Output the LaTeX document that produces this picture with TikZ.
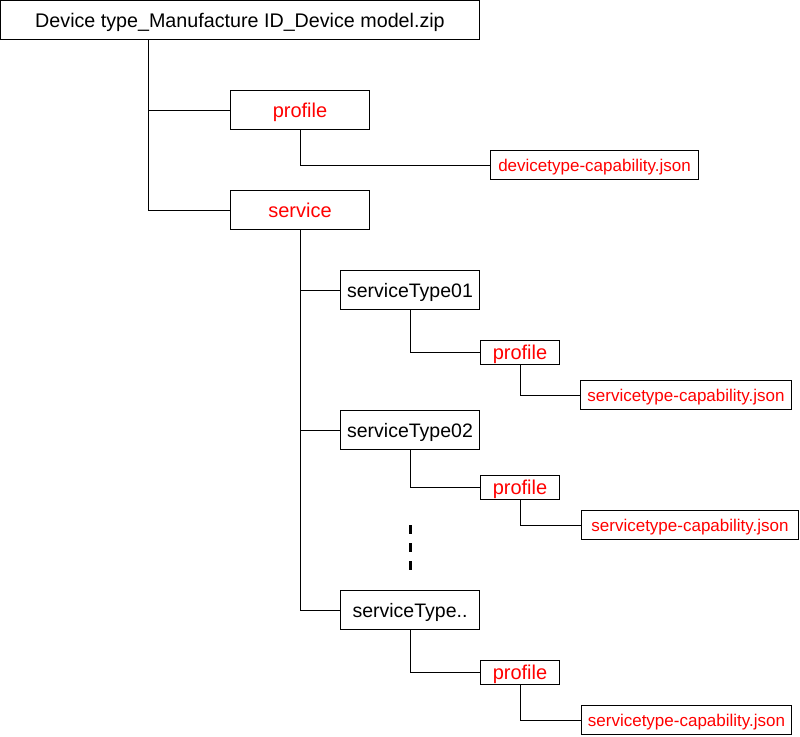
\documentclass[tikz,border=0pt]{standalone}
\usepackage{fontspec}
\setmainfont{Liberation Sans}
\begin{document}
\begin{tikzpicture}[x=1pt, y=-1pt,
    box/.style={draw, line width=1pt, inner sep=0pt, text depth=0pt, minimum width=139pt, minimum height=39pt, font=\fontsize{19.5}{23}\selectfont},
    redbox/.style={box, text=red, font=\fontsize{20}{24}\selectfont},
    smallred/.style={redbox, minimum width=79pt, minimum height=24pt},
    jsonbox/.style={box, text=red, minimum height=29pt, font=\fontsize{17}{20}\selectfont},
    link/.style={line width=1pt}]
    \useasboundingbox (0,0) rectangle (800,736);

    % Root: the zip archive
    \node[box, minimum width=479pt, font=\fontsize{19.7}{23}\selectfont] (root) at (240,20) {Device type\_Manufacture ID\_Device model.zip};

    % First level: profile and service
    \node[redbox] (profile) at (300,110) {profile};
    \node[jsonbox, minimum width=208pt] (devjson) at (594.5,165) {devicetype-capability.json};
    \node[redbox] (service) at (300,210) {service};

    % Second level: service types
    \node[box] (st1) at (410,290) {serviceType01};
    \node[box] (st2) at (410,430) {serviceType02};
    \node[box] (st3) at (410,610) {serviceType..};

    % Profiles of the service types
    \node[smallred] (p1) at (520,352.5) {profile};
    \node[smallred] (p2) at (520,487.5) {profile};
    \node[smallred] (p3) at (520,672.5) {profile};

    % Capability files
    \node[jsonbox, minimum width=211pt] (j1) at (686,395) {servicetype-capability.json};
    \node[jsonbox, minimum width=217pt] (j2) at (690,525) {servicetype-capability.json};
    \node[jsonbox, minimum width=210pt] (j3) at (686.5,720) {servicetype-capability.json};

    % Tree lines
    \coordinate (rootstem) at (148,40);
    \draw[link] (rootstem) |- (service.west);
    \draw[link] (rootstem |- profile.west) -- (profile.west);
    \draw[link] (profile.south) |- (devjson.west);

    \draw[link] (service.south) |- (st3.west);
    \draw[link] (service.south |- st1.west) -- (st1.west);
    \draw[link] (service.south |- st2.west) -- (st2.west);

    \draw[link] (st1.south) |- (p1.west);
    \draw[link] (st2.south) |- (p2.west);
    \draw[link] (st3.south) |- (p3.west);

    \draw[link] (p1.south) |- (j1.west);
    \draw[link] (p2.south) |- (j2.west);
    \draw[link] (p3.south) |- (j3.west);

    % Ellipsis between the service types
    \coordinate (dotstop) at (410,525);
    \coordinate (dotsend) at (410,570);
    \draw[line width=3pt, dash pattern=on 9pt off 9pt] (dotstop) -- (dotsend);
\end{tikzpicture}
\end{document}
